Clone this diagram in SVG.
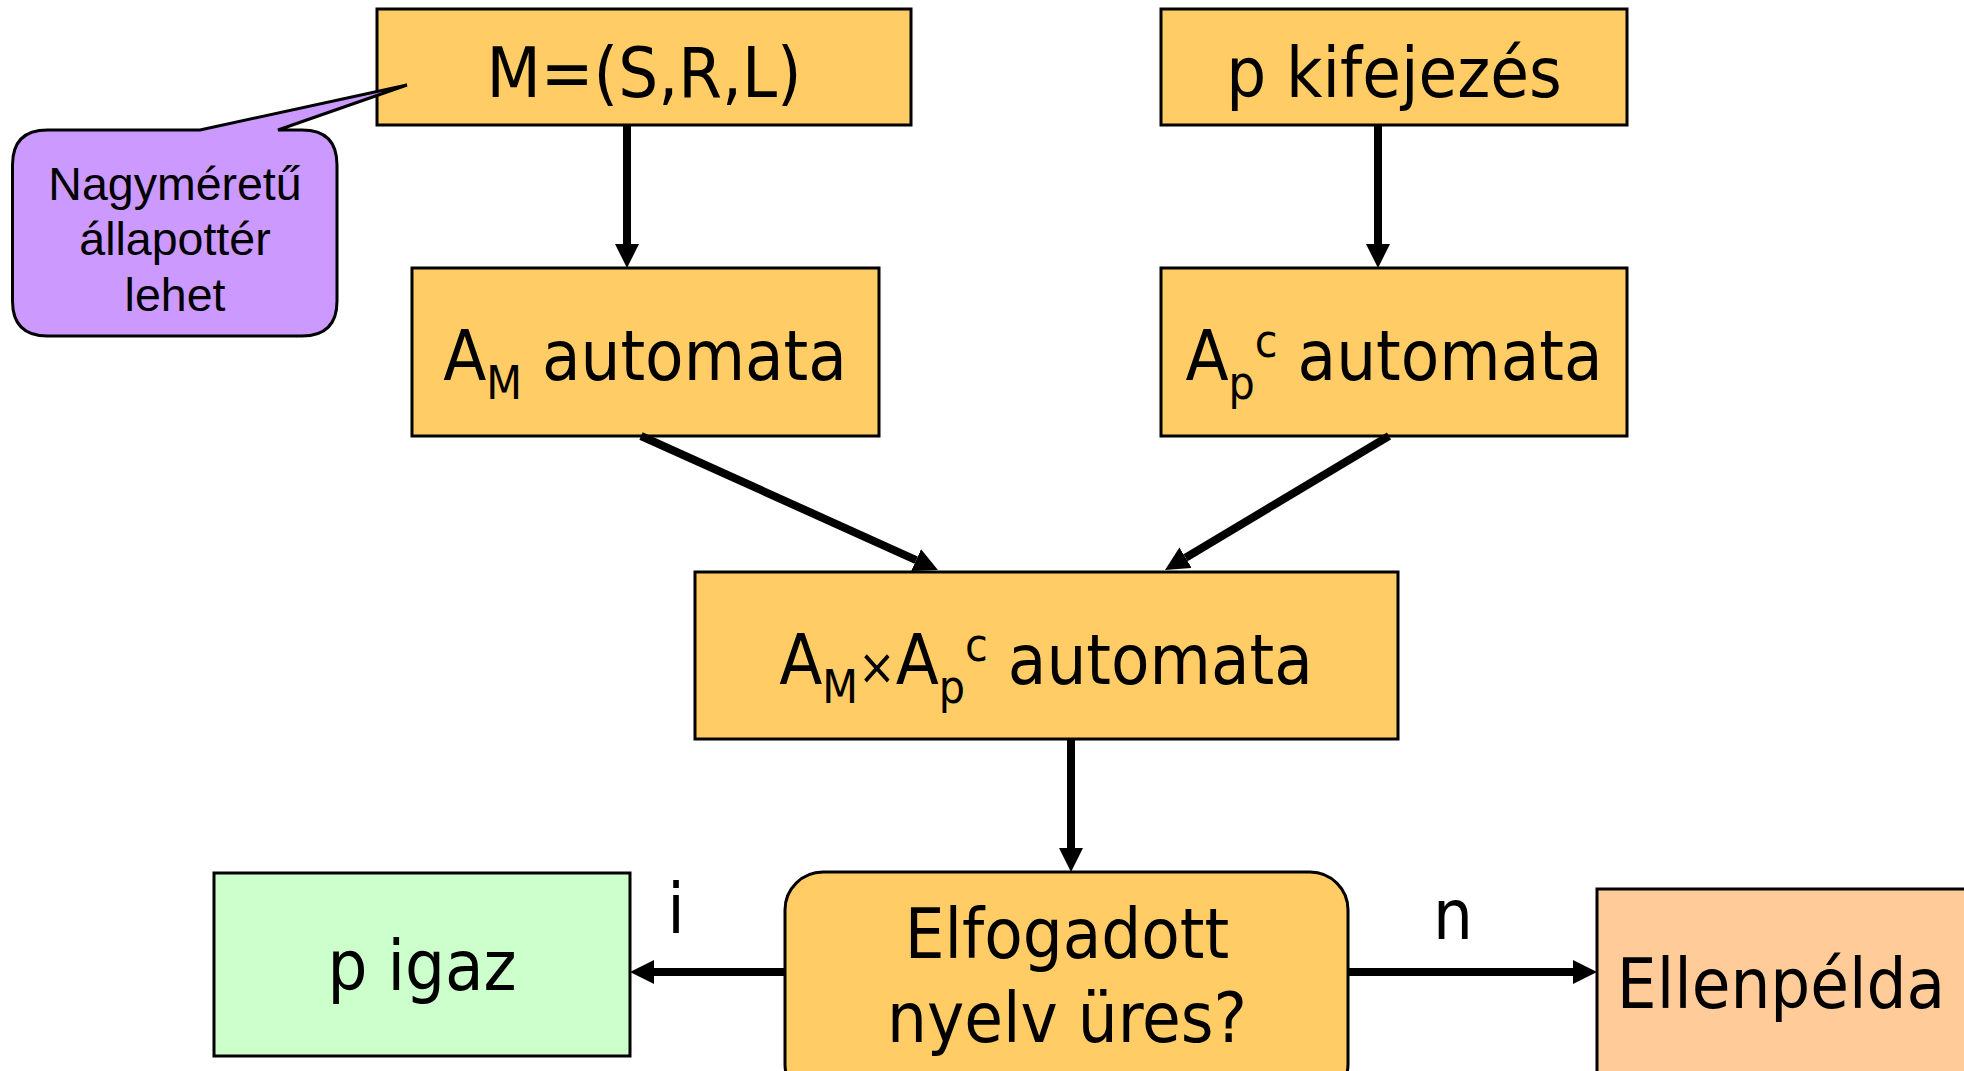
<svg xmlns="http://www.w3.org/2000/svg" width="1964" height="1071" viewBox="0 0 1964 1071">
<style>
.box{stroke:#000;stroke-width:3}
.or{fill:#FFCC66}
.t{font-family:"DejaVu Sans Condensed","DejaVu Sans",sans-serif;font-size:70px;fill:#000;text-anchor:middle;font-stretch:condensed}
.c{font-family:"Liberation Sans",Arial,sans-serif;font-size:46.5px;fill:#000;text-anchor:middle}
.ar{fill:none;stroke:#000;stroke-width:8}
</style>
<defs>
<marker id="ah" viewBox="0 -12 24 24" markerWidth="24" markerHeight="24" refX="0" refY="0" orient="auto" markerUnits="userSpaceOnUse">
<path d="M0,-12 L24,0 L0,12 z" fill="#000"/>
</marker>
</defs>
<rect width="1964" height="1071" fill="#fff"/>
<g id="m">
<rect class="box or" x="377" y="9" width="534" height="116"/>
<text class="t" x="644" y="97">M=(S,R,L)</text>
</g>
<g id="callout">
<path class="box" fill="#CC99FF" d="M47.5,130 L200,130 L407,85 L278,130 L302,130 Q337,130 337,165 L337,301 Q337,336 302,336 L47.5,336 Q12.5,336 12.5,301 L12.5,165 Q12.5,130 47.5,130 Z"/>
<text class="c" x="175" y="200">Nagyméretű</text>
<text class="c" x="175" y="255">állapottér</text>
<text class="c" x="175" y="311">lehet</text>
</g>
<g id="p">
<rect class="box or" x="1161" y="9" width="466" height="116"/>
<text class="t" x="1394" y="97">p kifejezés</text>
</g>
<g id="am">
<rect class="box or" x="412" y="268" width="467" height="168"/>
<text class="t" x="645" y="380">A<tspan font-size="46" dy="19">M</tspan><tspan dy="-19"> automata</tspan></text>
</g>
<g id="apc">
<rect class="box or" x="1161" y="268" width="466" height="168"/>
<text class="t" x="1394" y="380">A<tspan font-size="46" dy="19">p</tspan><tspan font-size="46" dy="-42">c</tspan><tspan dy="23"> automata</tspan></text>
</g>
<g id="prod">
<rect class="box or" x="695" y="572" width="703" height="167"/>
<text class="t" x="1046" y="684">A<tspan font-size="46" dy="19">M</tspan><tspan font-size="50" dy="-19">×</tspan>A<tspan font-size="46" dy="19">p</tspan><tspan font-size="46" dy="-42">c</tspan><tspan dy="23"> automata</tspan></text>
</g>
<g id="q">
<rect class="box or" x="785" y="872" width="563" height="230" rx="38" ry="38"/>
<text class="t" x="1067" y="958">Elfogadott</text>
<text class="t" x="1067" y="1042">nyelv üres?</text>
</g>
<g id="igaz">
<rect class="box" fill="#CCFFCC" x="214" y="873" width="416" height="183"/>
<text class="t" x="422" y="990">p igaz</text>
</g>
<g id="ellen">
<rect class="box" fill="#FFCC99" x="1597" y="889" width="380" height="200"/>
<text class="t" x="1781" y="1008">Ellenpélda</text>
</g>
<g id="connectors">
<line class="ar" x1="627" y1="125" x2="627" y2="244" marker-end="url(#ah)"/>
<line class="ar" x1="1378" y1="125" x2="1378" y2="244" marker-end="url(#ah)"/>
<line class="ar" x1="641" y1="436" x2="916.1" y2="560.1" marker-end="url(#ah)"/>
<line class="ar" x1="1389" y1="436" x2="1185.6" y2="557.7" marker-end="url(#ah)"/>
<line class="ar" x1="1071" y1="739" x2="1071" y2="848" marker-end="url(#ah)"/>
<line class="ar" x1="785" y1="972" x2="654" y2="972" marker-end="url(#ah)"/>
<line class="ar" x1="1348" y1="972" x2="1573" y2="972" marker-end="url(#ah)"/>
<text class="t" x="676" y="933">i</text>
<text class="t" x="1453" y="939">n</text>
</g>
</svg>
